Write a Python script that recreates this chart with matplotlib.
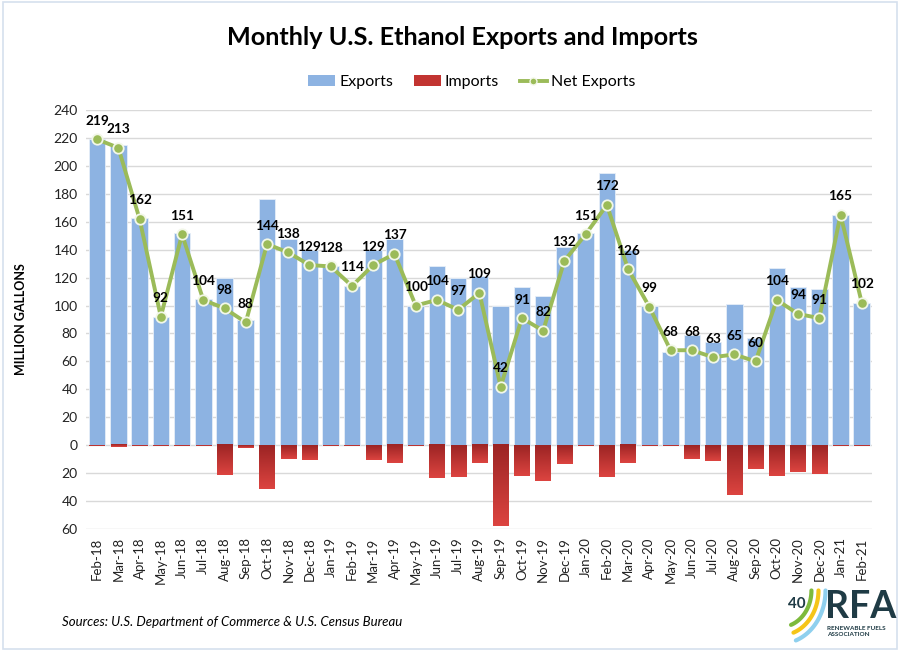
import numpy as np
import matplotlib
matplotlib.use("Agg")
import matplotlib.pyplot as plt
from matplotlib.patches import Patch, Rectangle
from matplotlib.lines import Line2D

plt.rcParams['font.family'] = ['Lato', 'DejaVu Sans']

months = ["Feb-18", "Mar-18", "Apr-18", "May-18", "Jun-18", "Jul-18", "Aug-18", "Sep-18",
          "Oct-18", "Nov-18", "Dec-18", "Jan-19", "Feb-19", "Mar-19", "Apr-19", "May-19",
          "Jun-19", "Jul-19", "Aug-19", "Sep-19", "Oct-19", "Nov-19", "Dec-19", "Jan-20",
          "Feb-20", "Mar-20", "Apr-20", "May-20", "Jun-20", "Jul-20", "Aug-20", "Sep-20",
          "Oct-20", "Nov-20", "Dec-20", "Jan-21", "Feb-21"]

exports = [219, 215, 163, 92, 152, 105, 120, 90, 176, 148, 140, 128, 114, 140, 148, 100,
           128, 120, 121, 100, 113, 107, 142, 152, 195, 140, 100, 67, 79, 74, 101, 77,
           127, 113, 112, 165, 102]

imports = [0.5, 1.5, 0.5, 0.5, 0.5, 0.5, 21.5, 2, 31, 9.7, 10.7, 0.5, 0.5, 10.7, 13, 0.5,
           23.7, 22.5, 13, 58, 21.7, 25.5, 13.6, 0.5, 22.5, 13, 0.5, 0.5, 10, 11, 35.5, 16.8,
           22, 19.3, 20.3, 0.5, 0.5]

net_exports = [219, 213, 162, 92, 151, 104, 98, 88, 144, 138, 129, 128, 114, 129, 137, 100,
               104, 97, 109, 42, 91, 82, 132, 151, 172, 126, 99, 68, 68, 63, 65, 60,
               104, 94, 91, 165, 102]

yticks = [-60, -40, -20, 0, 20, 40, 60, 80, 100, 120, 140, 160, 180, 200, 220, 240]

blue = "#8DB3E2"
green = "#9BBB59"

fig = plt.figure(figsize=(9, 6.51), dpi=100)
ax = fig.add_axes([0.0956, 0.1874, 0.873, 0.6436])

x = np.arange(len(months))
ax.bar(x, exports, width=0.78, color=blue, edgecolor="#E6EEF8", linewidth=0.6, zorder=2)
neg = -np.array(imports)
ibars = ax.bar(x, neg, width=0.72, color="#C23431", linewidth=0, zorder=2)

# vertical gradient on import bars
grad = np.linspace(0, 1, 64).reshape(-1, 1)
cmap = matplotlib.colors.LinearSegmentedColormap.from_list("imp", ["#DC4440", "#9C2424"])
for b in ibars:
    x0, w, h = b.get_x(), b.get_width(), b.get_height()
    ax.imshow(grad, cmap=cmap, aspect="auto", extent=(x0, x0 + w, 0, h),
              origin="upper", zorder=2.1, clip_path=b, clip_on=True)

ax.plot(x, net_exports, color=green, linewidth=2.8, marker="o", markersize=7.5,
        markerfacecolor=green, markeredgecolor="#F2F7E8", markeredgewidth=1.3, zorder=4)

for xi, v in zip(x, net_exports):
    ax.annotate(str(v), (xi, v), xytext=(0, 9), textcoords="offset points",
                ha="center", va="bottom", fontsize=9.8, fontweight="bold", zorder=5)

ax.set_xlim(-0.52, 36.47)
ax.set_ylim(-60, 240)
ax.set_yticks(yticks)
ax.set_yticklabels([str(abs(t)) for t in yticks], fontsize=10)
ax.set_xticks(x)
ax.set_xticklabels(months, rotation=90, fontsize=9.5)
ax.tick_params(axis="both", length=0, pad=6, colors="#222222")
ax.grid(axis="y", color="#D9D9D9", linewidth=1, zorder=0)
ax.set_axisbelow(True)
for s in ax.spines.values():
    s.set_visible(False)

ax.set_ylabel("MILLION GALLONS", fontsize=9, fontweight="bold")
ax.yaxis.set_label_coords(-0.075, 0.5)

fig.text(0.514, 0.942, "Monthly U.S. Ethanol Exports and Imports", ha="center", va="center",
         fontsize=18.2, fontweight="bold")

handles = [Patch(facecolor=blue, edgecolor="none"),
           Patch(facecolor="#C23431", edgecolor="none"),
           Line2D([0], [0], color=green, lw=2.8, marker="o", markersize=5,
                  markerfacecolor=green, markeredgecolor="#F2F7E8")]
fig.legend(handles, ["Exports", "Imports", "Net Exports"], loc="center",
           bbox_to_anchor=(0.524, 0.874), ncol=3, frameon=False, fontsize=11.5,
           handlelength=1.7, handletextpad=0.25, columnspacing=1.3)

fig.text(0.069, 0.044, "Sources: U.S. Department of Commerce & U.S. Census Bureau",
         fontsize=9.5, style="italic", va="center")

# logo
lax = fig.add_axes([0.874, 0.018, 0.046, 0.075])
lax.set_xlim(0, 1)
lax.set_ylim(0, 1)
lax.axis("off")
ang = np.linspace(-np.pi / 2 + 0.35, 0, 30)
for r, col in [(0.75, "#7DBA3C"), (0.92, "#F5C518"), (1.09, "#8FD0EE")]:
    lax.plot(-0.15 + r * np.cos(ang), 1.0 + r * np.sin(ang), color=col, lw=3,
             solid_capstyle="round", clip_on=False)
fig.text(0.875, 0.072, "40", fontsize=11, fontweight="bold", color="#1F3B45", va="center")
fig.text(0.917, 0.068, "RFA", fontsize=27, fontweight="bold", color="#1F3B45", va="center")
fig.text(0.919, 0.030, "RENEWABLE FUELS\nASSOCIATION", fontsize=4.6, fontweight="bold",
         color="#1F3B45", va="center", linespacing=1.1)

fig.patches.append(Rectangle((0.003, 0.003), 0.994, 0.994, transform=fig.transFigure,
                             fill=False, edgecolor="#D6E0EE", linewidth=1.2))

fig.savefig("out.png", dpi=100)
